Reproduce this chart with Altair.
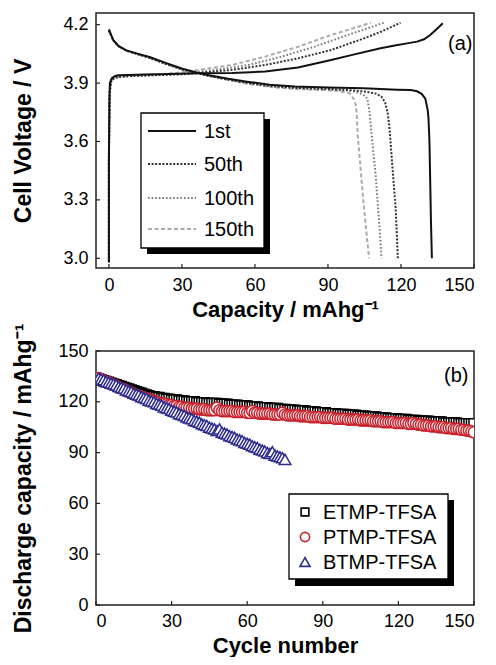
import altair as alt
import pandas as pd

FONT = "Liberation Sans"

# ---------------- panel (a): charge / discharge curves ----------------
cycle_names = ["1st", "50th", "100th", "150th"]

c1_charge_x = [0, 0, 0.2, 0.4, 1.2, 2.4, 3.8, 8, 15, 25, 37, 50.6, 64.2, 77.7, 91.3, 100, 111.6, 118, 122.5, 126.6, 129.5, 132, 134.5, 137.2]
c1_charge_v = [2.98, 3.5, 3.8, 3.9, 3.925, 3.935, 3.94, 3.942, 3.944, 3.946, 3.95, 3.952, 3.959, 3.98, 4.019, 4.045, 4.079, 4.094, 4.104, 4.113, 4.125, 4.147, 4.175, 4.207]
c1_dis_x = [0, 1.8, 4, 7.2, 12, 16.7, 23, 30.2, 36, 41.1, 49, 57.4, 66, 76.4, 90, 104.7, 118.4, 124, 126.6, 128.5, 130, 131, 131.3, 131.7, 132, 132.3, 132.7]
c1_dis_v = [4.176, 4.12, 4.09, 4.068, 4.05, 4.034, 4.005, 3.974, 3.955, 3.94, 3.922, 3.906, 3.892, 3.882, 3.877, 3.873, 3.866, 3.864, 3.858, 3.845, 3.82, 3.76, 3.718, 3.6, 3.4, 3.2, 3.0]

c50_charge_x = [0, 0, 0.3, 1, 2.5, 5, 10, 20, 30, 37, 50.6, 64.2, 77.7, 91.3, 104.9, 112, 119.8]
c50_charge_v = [2.98, 3.5, 3.85, 3.915, 3.928, 3.933, 3.937, 3.941, 3.945, 3.952, 3.968, 3.993, 4.027, 4.07, 4.13, 4.165, 4.21]
c50_dis_x = [0, 1.8, 4, 7.2, 12, 16.7, 23, 30.2, 36, 41.1, 49, 57.4, 66, 76.4, 90, 100, 106, 110, 112, 113.5, 114.5, 115.2, 115.7, 116.6, 117.8, 118.3, 118.7]
c50_dis_v = [4.17, 4.12, 4.09, 4.066, 4.048, 4.03, 4.0, 3.97, 3.952, 3.937, 3.918, 3.9, 3.886, 3.876, 3.87, 3.863, 3.855, 3.845, 3.83, 3.8, 3.75, 3.68, 3.6, 3.45, 3.26, 3.12, 3.0]

c100_charge_x = [0, 0, 0.3, 1, 2.5, 5, 10, 20, 30, 43.8, 57.4, 71, 84.5, 98.1, 106, 113]
c100_charge_v = [2.98, 3.5, 3.85, 3.915, 3.928, 3.933, 3.937, 3.942, 3.948, 3.968, 3.993, 4.036, 4.087, 4.147, 4.18, 4.21]
c100_dis_x = [0, 1.8, 4, 7.2, 12, 16.7, 23, 30.2, 36, 41.1, 49, 57.4, 66, 76.4, 90, 98, 102.2, 104.5, 106.2, 107, 107.6, 108.6, 109.6, 110.8, 111.5, 112]
c100_dis_v = [4.17, 4.12, 4.09, 4.066, 4.048, 4.03, 4.0, 3.97, 3.952, 3.937, 3.918, 3.9, 3.884, 3.874, 3.866, 3.862, 3.852, 3.84, 3.82, 3.76, 3.684, 3.55, 3.427, 3.22, 3.1, 3.0]

c150_charge_x = [0, 0, 0.3, 1, 2.5, 5, 10, 20, 28, 37, 50.6, 64.2, 77.7, 91.3, 100, 107.6]
c150_charge_v = [2.98, 3.5, 3.85, 3.915, 3.928, 3.933, 3.938, 3.945, 3.953, 3.968, 3.993, 4.036, 4.087, 4.147, 4.18, 4.21]
c150_dis_x = [0, 1.8, 4, 7.2, 12, 16.7, 23, 30.2, 36, 41.1, 49, 57.4, 66, 76.4, 88, 94, 98.8, 100.5, 101.5, 102, 102.2, 103.2, 104.2, 105.5, 106.9]
c150_dis_v = [4.17, 4.12, 4.09, 4.066, 4.048, 4.03, 4.0, 3.97, 3.952, 3.937, 3.916, 3.896, 3.88, 3.87, 3.864, 3.86, 3.848, 3.82, 3.786, 3.70, 3.632, 3.49, 3.342, 3.17, 3.0]

a_x_ticks = [0, 30, 60, 90, 120, 150]
a_y_ticks = [3.0, 3.3, 3.6, 3.9, 4.2]

# ---------------- panel (b): cycling ----------------
series_names = ["ETMP-TFSA", "PTMP-TFSA", "BTMP-TFSA"]

etmp = [133.5, 133, 132.5, 132, 131.5, 131, 130.5, 130, 129.5, 129,
        128.5, 128, 127.5, 127, 126.5, 126, 125.5, 125, 124.5, 124,
        123.5, 123, 123, 122.5, 122.5, 122, 122, 121.5, 121.5, 121,
        121, 121, 120.5, 120.5, 120.5, 120, 120, 120, 120, 119.5,
        119.5, 119.5, 119.5, 119, 119, 119, 119, 119, 118.5, 118.5,
        118.5, 118.5, 118, 118, 118, 118, 117.5, 117.5, 117.5, 117.5,
        117, 117, 117, 117, 116.5, 116.5, 116.5, 116.5, 116, 116,
        116, 116, 115.5, 115.5, 115.5, 115, 115, 115, 115, 114.5,
        114.5, 114.5, 114.5, 114, 114, 114, 114, 113.5, 113.5, 113.5,
        113.5, 113, 113, 113, 113, 112.5, 112.5, 112.5, 112.5, 112,
        112, 112, 112, 111.5, 111.5, 111.5, 111.5, 111, 111, 111,
        111, 110.5, 110.5, 110.5, 110.5, 110, 110, 110, 110, 109.5,
        109.5, 109.5, 109.5, 109, 109, 109, 109, 108.5, 108.5, 108.5,
        108.5, 108.5, 108, 108, 108, 108, 108, 107.5, 107.5, 107.5,
        107.5, 107.5, 107.5, 107, 107, 107, 107, 107, 107, 107]

ptmp = [134, 133.5, 132.5, 132, 131.5, 130.5, 130, 129.5, 128.5, 128,
        127.5, 126.5, 126, 125.5, 124.5, 124, 123.5, 123, 122.5, 122,
        121.5, 121, 120.5, 120, 119.5, 119, 119, 118.5, 118, 118,
        117.5, 117.5, 117, 117, 116.5, 116.5, 116.5, 116, 116, 116,
        115.5, 115.5, 115.5, 115, 115, 115, 115, 116.5, 115, 114.5,
        114.5, 114.5, 114.5, 114.5, 114, 114, 114, 114, 114, 113.5,
        113.5, 114.5, 113.5, 113.5, 113, 113, 113, 113, 113, 112.5,
        112.5, 112.5, 112.5, 113.5, 112.5, 112, 112, 112, 112, 112,
        111.5, 111.5, 111.5, 111.5, 111, 111, 111, 111, 111, 110.5,
        110.5, 110.5, 110.5, 110.5, 110, 110, 110, 110, 110, 109.5,
        109.5, 109.5, 109.5, 109.5, 109, 109, 109, 109, 109, 108.5,
        108.5, 108.5, 108.5, 108, 108, 108, 108, 108, 107.5, 107.5,
        107.5, 107.5, 107.5, 107, 107, 107.5, 107, 106.5, 106.5, 106,
        106, 106, 105.5, 105.5, 105.5, 105, 105, 105, 104.5, 104.5,
        104.5, 104, 104, 104, 103.5, 103.5, 103, 103, 102.5, 102]

btmp = [134, 133.5, 133, 132, 131.5, 131, 130.5, 130, 129, 128.5,
        128, 127, 126.5, 126, 125, 124.5, 124, 123, 122.5, 122,
        121, 120.5, 120, 119, 118.5, 118, 117, 116.5, 116, 115,
        114.5, 114, 113, 112.5, 112, 111, 110.5, 110, 109, 108.5,
        108, 107, 106.5, 106, 105, 104.5, 104, 103, 104, 102,
        101.5, 101, 100, 99.5, 99, 98, 97.5, 97, 96, 95.5,
        95, 94, 93.5, 93, 92, 91.5, 91, 90, 89.5, 90.5,
        88.5, 88, 87.5, 87, 86]

b_ticks = [0, 30, 60, 90, 120, 150]

# ---------------- build tables ----------------
curves = {
    "1st": (c1_charge_x, c1_charge_v, c1_dis_x, c1_dis_v),
    "50th": (c50_charge_x, c50_charge_v, c50_dis_x, c50_dis_v),
    "100th": (c100_charge_x, c100_charge_v, c100_dis_x, c100_dis_v),
    "150th": (c150_charge_x, c150_charge_v, c150_dis_x, c150_dis_v),
}
rows = []
for name, (cx, cv, dx, dv) in curves.items():
    for i, (x, v) in enumerate(zip(cx, cv)):
        rows.append({"cycle": name, "branch": "charge", "i": i, "cap": x, "volt": v})
    for i, (x, v) in enumerate(zip(dx, dv)):
        rows.append({"cycle": name, "branch": "discharge", "i": i, "cap": x, "volt": v})
df_a = pd.DataFrame(rows)

PW = 378
PHA = 255
PHB = 254

xs_a = alt.Scale(domain=[-5.3, 150], nice=False, zero=False)
ys_a = alt.Scale(domain=[2.95, 4.26], nice=False, zero=False)
ax_xa = alt.Axis(title="Capacity / mAhg\u207b\u00b9", values=a_x_ticks, format="d",
                 labelPadding=8, titlePadding=5, titleFontSize=22)
ax_ya = alt.Axis(title="Cell Voltage / V", values=a_y_ticks, format=".1f",
                 labelPadding=8, titlePadding=27, titleFontSize=23)

styles = {
    "1st": dict(color="#111111"),
    "50th": dict(color="#333333", strokeDash=[2, 1.6]),
    "100th": dict(color="#7a7a7a", strokeDash=[1.6, 2]),
    "150th": dict(color="#ababab", strokeDash=[4, 2.5]),
}

layers_a = []
for name in ["150th", "100th", "50th", "1st"]:
    layers_a.append(
        alt.Chart(df_a[df_a.cycle == name]).mark_line(strokeWidth=2, clip=True, **styles[name]).encode(
            x=alt.X("cap:Q", scale=xs_a, axis=ax_xa),
            y=alt.Y("volt:Q", scale=ys_a, axis=ax_ya),
            detail="branch:N",
            order="i:Q",
        )
    )

# inward ticks
tx_a = pd.DataFrame({"cap": a_x_ticks})
ty_a = pd.DataFrame({"volt": a_y_ticks})
layers_a.append(alt.Chart(tx_a).mark_rule(color="#222", strokeWidth=1.2).encode(
    x=alt.X("cap:Q", scale=xs_a, axis=ax_xa), y=alt.value(PHA), y2=alt.value(PHA - 4)))
layers_a.append(alt.Chart(ty_a).mark_rule(color="#222", strokeWidth=1.2).encode(
    y=alt.Y("volt:Q", scale=ys_a, axis=ax_ya), x=alt.value(0), x2=alt.value(4)))

# legend (a)
one = pd.DataFrame({"k": [0]})
layers_a.append(alt.Chart(one).mark_rect(color="black").encode(
    x=alt.value(51), x2=alt.value(174), y=alt.value(106), y2=alt.value(241)))
layers_a.append(alt.Chart(one).mark_rect(fill="white", stroke="black", strokeWidth=1.3).encode(
    x=alt.value(45), x2=alt.value(168), y=alt.value(100), y2=alt.value(235)))
row_y_a = [118, 151, 185, 216]
for name, ry in zip(cycle_names, row_y_a):
    layers_a.append(alt.Chart(one).mark_rule(strokeWidth=2, **styles[name]).encode(
        x=alt.value(52), x2=alt.value(100), y=alt.value(ry)))
    layers_a.append(alt.Chart(one).mark_text(text=name, font=FONT, fontSize=20, align="left",
                                             baseline="middle", color="black").encode(
        x=alt.value(108), y=alt.value(ry + 1)))
layers_a.append(alt.Chart(one).mark_text(text="(a)", font=FONT, fontSize=20, align="left",
                                         baseline="alphabetic", color="black").encode(
    x=alt.value(352), y=alt.value(37)))

panel_a = alt.layer(*layers_a).properties(width=PW, height=PHA)

# ---------------- panel (b) ----------------
df_e = pd.DataFrame({"cyc": list(range(1, len(etmp) + 1)), "cap": etmp})
df_p = pd.DataFrame({"cyc": list(range(1, len(ptmp) + 1)), "cap": ptmp})
df_bt = pd.DataFrame({"cyc": list(range(1, len(btmp) + 1)), "cap": btmp})

xs_b = alt.Scale(domain=[0, 150], nice=False, zero=False)
ys_b = alt.Scale(domain=[0, 150], nice=False, zero=False)
ax_xb = alt.Axis(title="Cycle number", values=b_ticks, format="d", labelPadding=7,
                 titlePadding=5, titleFontSize=22)
ax_yb = alt.Axis(title="Discharge capacity / mAhg\u207b\u00b9", values=b_ticks, format="d",
                 labelPadding=8, titlePadding=22, titleFontSize=23)

RED = "#c8202b"
BLUE = "#2d2a8e"
marks_b = [
    (df_e, "square", "black", 100),
    (df_p, "circle", RED, 125),
    (df_bt, "triangle-up", BLUE, 135),
]
layers_b = []
for d, shape, col, sz in marks_b:
    layers_b.append(alt.Chart(d).mark_point(shape=shape, size=sz, filled=False, fill="white",
                                            fillOpacity=1, stroke=col, strokeWidth=1.5,
                                            opacity=1, clip=True).encode(
        x=alt.X("cyc:Q", scale=xs_b, axis=ax_xb),
        y=alt.Y("cap:Q", scale=ys_b, axis=ax_yb),
    ))

tbx = pd.DataFrame({"cyc": b_ticks})
tby = pd.DataFrame({"cap": b_ticks})
layers_b.append(alt.Chart(tbx).mark_rule(color="#222", strokeWidth=1.2).encode(
    x=alt.X("cyc:Q", scale=xs_b, axis=ax_xb), y=alt.value(PHB), y2=alt.value(PHB - 4)))
layers_b.append(alt.Chart(tby).mark_rule(color="#222", strokeWidth=1.2).encode(
    y=alt.Y("cap:Q", scale=ys_b, axis=ax_yb), x=alt.value(0), x2=alt.value(4)))

layers_b.append(alt.Chart(one).mark_rect(color="black").encode(
    x=alt.value(199), x2=alt.value(358), y=alt.value(149), y2=alt.value(235)))
layers_b.append(alt.Chart(one).mark_rect(fill="white", stroke="black", strokeWidth=1.3).encode(
    x=alt.value(193), x2=alt.value(352), y=alt.value(143), y2=alt.value(228)))
leg_b = [("square", "black", 60), ("circle", RED, 85), ("triangle-up", BLUE, 100)]
row_y_b = [161, 186, 211]
for name, (shape, col, sz), ry in zip(series_names, leg_b, row_y_b):
    layers_b.append(alt.Chart(one).mark_point(shape=shape, size=sz, filled=False, fill="white",
                                              fillOpacity=1, stroke=col, strokeWidth=1.6,
                                              opacity=1).encode(
        x=alt.value(209), y=alt.value(ry)))
    layers_b.append(alt.Chart(one).mark_text(text=name, font=FONT, fontSize=20, align="left",
                                             baseline="middle", color="black").encode(
        x=alt.value(227), y=alt.value(ry + 1)))
layers_b.append(alt.Chart(one).mark_text(text="(b)", font=FONT, fontSize=20, align="left",
                                         baseline="alphabetic", color="black").encode(
    x=alt.value(348), y=alt.value(31)))

panel_b = alt.layer(*layers_b).properties(width=PW, height=PHB)

chart = alt.vconcat(panel_a, panel_b, spacing=1).properties(
    padding={"left": 4, "top": 4, "right": 0, "bottom": 0}
).configure_view(
    stroke="#222222", strokeWidth=1.5
).configure_axis(
    domain=False, ticks=False, grid=False,
    labelFont=FONT, labelFontSize=18, labelColor="black",
    titleFont=FONT, titleFontWeight="bold", titleColor="black",
)

chart.save("out.html", embed_options={"renderer": "svg", "actions": False})
